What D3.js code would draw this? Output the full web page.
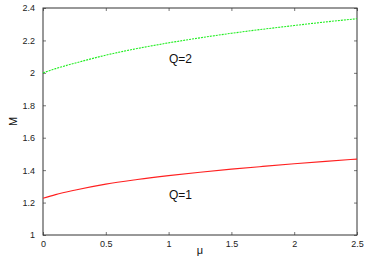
<!DOCTYPE html>
<html lang="en">
  <head>
    <meta charset="UTF-8" />
    <title>M vs mu</title>
    <style>
      body { margin: 0; background: #fff; }
      svg { display: block; font-family: "Liberation Sans", Arial, sans-serif; }
    </style>
  </head>
  <body>
    <script src="https://cdn.jsdelivr.net/npm/d3@7"></script>
    <script>
      const mu = [0, 0.1, 0.25, 0.5, 0.75, 1, 1.25, 1.5, 1.75, 2, 2.25, 2.5];
      const q1 = [1.227, 1.249, 1.276, 1.314, 1.342, 1.366, 1.387, 1.406, 1.423, 1.439, 1.454, 1.468];
      const q2 = [2.0, 2.026, 2.059, 2.109, 2.150, 2.185, 2.216, 2.244, 2.269, 2.292, 2.314, 2.334];
      const xTicks = [0, 0.5, 1, 1.5, 2, 2.5];
      const yTicks = [1, 1.2, 1.4, 1.6, 1.8, 2, 2.2, 2.4];

      const width = 368, height = 258;
      const padL = 43, padR = 357, padT = 8, padB = 235;

      const x = d3.scaleLinear().domain([0, 2.5]).range([padL, padR]);
      const y = d3.scaleLinear().domain([1, 2.4]).range([padB, padT]);

      const svg = d3.select("body").append("svg")
        .attr("width", width)
        .attr("height", height);

      // ticks on all four sides, pointing inward
      svg.append("g")
        .attr("transform", "translate(0," + padB + ")")
        .call(d3.axisBottom(x).tickValues(xTicks).tickSizeInner(-3).tickSizeOuter(0).tickPadding(6).tickFormat(d3.format("")))
        .call(g => g.select(".domain").remove());
      svg.append("g")
        .attr("transform", "translate(0," + padT + ")")
        .call(d3.axisTop(x).tickValues(xTicks).tickSizeInner(-3).tickSizeOuter(0).tickFormat(""))
        .call(g => g.select(".domain").remove());
      svg.append("g")
        .attr("transform", "translate(" + padL + ",0)")
        .call(d3.axisLeft(y).tickValues(yTicks).tickSizeInner(-3).tickSizeOuter(0).tickPadding(8).tickFormat(d3.format("")))
        .call(g => g.select(".domain").remove());
      svg.append("g")
        .attr("transform", "translate(" + padR + ",0)")
        .call(d3.axisRight(y).tickValues(yTicks).tickSizeInner(-3).tickSizeOuter(0).tickFormat(""))
        .call(g => g.select(".domain").remove());

      svg.selectAll(".tick line").attr("stroke", "#777");
      svg.selectAll(".tick text")
        .attr("font-size", 9)
        .attr("font-family", "Liberation Sans, Arial, sans-serif")
        .attr("fill", "#222");

      svg.append("rect")
        .attr("x", padL)
        .attr("y", padT)
        .attr("width", padR - padL)
        .attr("height", padB - padT)
        .attr("fill", "none")
        .attr("stroke", "#333")
        .attr("stroke-width", 1);

      const line = d3.line()
        .x(d => x(d[0]))
        .y(d => y(d[1]))
        .curve(d3.curveMonotoneX);

      svg.append("path")
        .datum(mu.map((m, i) => [m, q1[i]]))
        .attr("d", line)
        .attr("fill", "none")
        .attr("stroke", "#ff2020")
        .attr("stroke-width", 1.1);

      svg.append("path")
        .datum(mu.map((m, i) => [m, q2[i]]))
        .attr("d", line)
        .attr("fill", "none")
        .attr("stroke", "#22ee22")
        .attr("stroke-width", 1.1)
        .attr("stroke-dasharray", "2,1");

      svg.append("text")
        .attr("x", 169)
        .attr("y", 63)
        .attr("font-size", 12)
        .attr("fill", "#111")
        .text("Q=2");
      svg.append("text")
        .attr("x", 169)
        .attr("y", 199)
        .attr("font-size", 12)
        .attr("fill", "#111")
        .text("Q=1");

      svg.append("text")
        .attr("x", (padL + padR) / 2)
        .attr("y", 254)
        .attr("text-anchor", "middle")
        .attr("font-size", 11)
        .attr("fill", "#111")
        .text("μ");
      svg.append("text")
        .attr("transform", "translate(17," + (padT + padB) / 2 + ") rotate(-90)")
        .attr("text-anchor", "middle")
        .attr("font-size", 11)
        .attr("fill", "#111")
        .text("M");
    </script>
  </body>
</html>
